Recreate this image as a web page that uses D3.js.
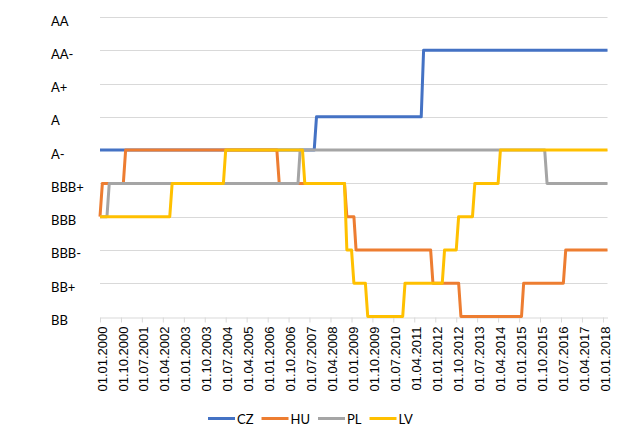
<!DOCTYPE html>
<html>
<head>
<meta charset="utf-8">
<script src="https://cdn.jsdelivr.net/npm/d3@7"></script>
<style>
  body { margin: 0; background: #fff; }
</style>
</head>
<body>
<div id="container"></div>
<script>
let w = 624;
let h = 439;

// rating scale, bottom to top
const ratings = ["BB", "BB+", "BBB-", "BBB", "BBB+", "A-", "A", "A+", "AA-", "AA"];

const tickLabels = ["01.01.2000", "01.10.2000", "01.07.2001", "01.04.2002", "01.01.2003",
  "01.10.2003", "01.07.2004", "01.04.2005", "01.01.2006", "01.10.2006", "01.07.2007",
  "01.04.2008", "01.01.2009", "01.10.2009", "01.07.2010", "01.04.2011", "01.01.2012",
  "01.10.2012", "01.07.2013", "01.04.2014", "01.01.2015", "01.10.2015", "01.07.2016",
  "01.04.2017", "01.01.2018"];

const countries = ["CZ", "HU", "PL", "LV"];
const colors = ["#4472C4", "#ED7D31", "#A5A5A5", "#FFC000"];

// rating changes: [month, new rating]
const czChanges = [["2000-01", "A-"], ["2007-10", "A"], ["2011-08", "AA-"]];
const huChanges = [["2000-01", "BBB"], ["2000-02", "BBB+"], ["2000-12", "A-"], ["2006-06", "BBB+"],
  ["2008-11", "BBB"], ["2009-03", "BBB-"], ["2011-12", "BB+"], ["2012-12", "BB"],
  ["2015-03", "BB+"], ["2016-09", "BBB-"]];
const plChanges = [["2000-01", "BBB"], ["2000-05", "BBB+"], ["2007-03", "A-"], ["2016-01", "BBB+"]];
const lvChanges = [["2000-01", "BBB"], ["2002-08", "BBB+"], ["2004-07", "A-"], ["2007-05", "BBB+"],
  ["2008-11", "BBB-"], ["2009-02", "BB+"], ["2009-08", "BB"], ["2010-12", "BB+"],
  ["2012-05", "BBB-"], ["2012-11", "BBB"], ["2013-06", "BBB+"], ["2014-05", "A-"]];
const allChanges = [czChanges, huChanges, plChanges, lvChanges];

const startDate = "2000-01";
const endDate = "2018-03";

let parseMonth = d3.timeParse("%Y-%m");
let parseTick = d3.timeParse("%d.%m.%Y");

let viz = d3.select("#container").append("svg")
    .attr("width", w)
    .attr("height", h)
    .style("background-color", "white")
    .style("display", "block")
;

let xScale = d3.scaleTime()
    .domain([parseMonth(startDate), parseMonth(endDate)])
    .range([100, 607.5]);
let yScale = d3.scalePoint().domain(ratings).range([316.5, 17]);

// gridlines
viz.append("g").attr("class", "grid")
  .selectAll("line").data(ratings.slice(1)).enter()
  .append("line")
    .attr("x1", 100).attr("x2", 607.5)
    .attr("y1", d => Math.round(yScale(d)) + 0.5)
    .attr("y2", d => Math.round(yScale(d)) + 0.5)
    .attr("stroke", "#D9D9D9")
    .attr("stroke-width", 1)
;

// x axis
let tickDates = tickLabels.map(parseTick);
let xAxis = d3.axisBottom(xScale)
    .tickValues(tickDates)
    .tickFormat(d3.timeFormat("%d.%m.%Y"))
    .tickSize(5)
    .tickSizeOuter(0);
let xAxisGroup = viz.append("g")
    .attr("class", "xaxisgroup")
    .attr("transform", "translate(0," + (Math.round(yScale("BB")) + 0.5) + ")")
    .call(xAxis);
xAxisGroup.select(".domain").attr("stroke", "#D9D9D9");
xAxisGroup.selectAll(".tick line").attr("stroke", "#D9D9D9");
xAxisGroup.selectAll("text")
    .attr("text-anchor", "end")
    .attr("x", -9)
    .attr("y", 0)
    .attr("dy", "0.35em")
    .attr("dx", 0)
    .attr("transform", "translate(1.5,0) rotate(-90)")
    .style("font-family", "'Liberation Sans', Arial, sans-serif")
    .style("font-size", "13px")
    .attr("fill", "#000")
;

// y labels
viz.append("g").attr("class", "ylabels")
  .selectAll("text").data(ratings).enter()
  .append("text")
    .attr("x", 51)
    .attr("y", d => yScale(d) + 3.5)
    .attr("dominant-baseline", "central")
    .style("font-family", "Lato, 'Open Sans', sans-serif")
    .style("font-size", "13px")
    .attr("fill", "#000")
    .text(d => d)
;

// step lines with a one month transition like the source sheet
function stepPoints(changes) {
  let pts = [];
  changes.forEach((c, i) => {
    let d = parseMonth(c[0]);
    pts.push([d, c[1]]);
    let next = i < changes.length - 1 ? d3.timeMonth.offset(parseMonth(changes[i + 1][0]), -1) : parseMonth(endDate);
    if (next > d) pts.push([next, c[1]]);
  });
  return pts;
}

let line = d3.line()
    .x(d => xScale(d[0]))
    .y(d => yScale(d[1]));

let graphGroup = viz.append("g").attr("class", "graphgroup");
graphGroup.selectAll("path").data(allChanges).enter()
  .append("path")
    .attr("d", d => line(stepPoints(d)))
    .attr("fill", "none")
    .attr("stroke", (d, i) => colors[i])
    .attr("stroke-width", 3)
    .attr("stroke-linejoin", "round")
;

// legend
let legend = viz.append("g").attr("class", "legend");
let lx = 208;
countries.forEach((c, i) => {
  legend.append("line")
      .attr("x1", lx).attr("x2", lx + 27)
      .attr("y1", 418.5).attr("y2", 418.5)
      .attr("stroke", colors[i])
      .attr("stroke-width", 3);
  let t = legend.append("text")
      .attr("x", lx + 29)
      .attr("y", 419)
      .attr("dominant-baseline", "central")
      .style("font-family", "Lato, 'Open Sans', sans-serif")
      .style("font-size", "13px")
      .attr("fill", "#000")
      .text(c);
  lx += 29 + t.node().getComputedTextLength() + 8;
});
</script>
</body>
</html>
